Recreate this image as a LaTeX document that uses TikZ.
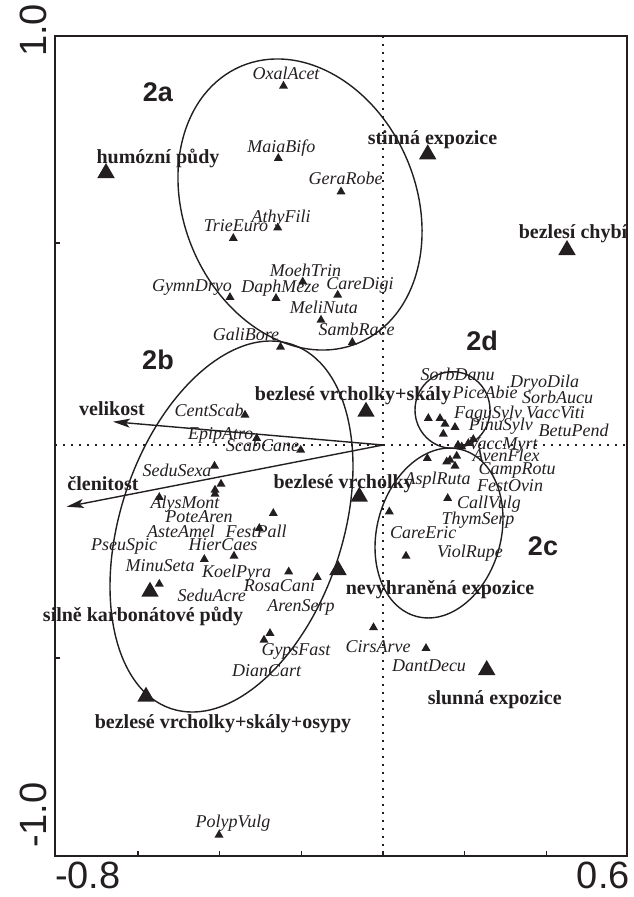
\documentclass[tikz,border=0pt]{standalone}
\usepackage{fontspec}
\setmainfont{Liberation Serif}
\newfontfamily\arialf{Liberation Sans}
\usetikzlibrary{arrows.meta}
\definecolor{ink}{HTML}{231F20}
\begin{document}
\begin{tikzpicture}[x=1pt,y=-1pt,
  sp/.style={font=\fontsize{18}{20}\selectfont\itshape, anchor=base, inner sep=0pt, text=ink},
  env/.style={font=\fontsize{20}{22}\selectfont\bfseries, anchor=base, inner sep=0pt, text=ink},
  grp/.style={font=\arialf\bfseries\fontsize{27}{30}\selectfont, anchor=base, inner sep=0pt, text=ink},
  axl/.style={font=\arialf\fontsize{38}{40}\selectfont, inner sep=0pt, text=ink},
  frame/.style={draw=ink, line width=1.5pt},
  grpline/.style={draw=ink, line width=1.4pt},
  dotline/.style={draw=ink, line width=1.3pt, dash pattern=on 2pt off 6pt},
  arr/.style={draw=ink, line width=1.4pt, -{Stealth[length=17pt,width=9pt,inset=4pt]}},
  smt/.pic={\fill[ink] (0,-5.2) -- (4.5,2.6) -- (-4.5,2.6) -- cycle;},
  bgt/.pic={\fill[ink] (0,-10) -- (8.7,5) -- (-8.7,5) -- cycle;}
]
\useasboundingbox (0,0) rectangle (633,897);

% dotted axes through origin
\draw[dotline] (383,36) -- (383,856);
\draw[dotline] (55,445) -- (627,445);

% frame and ticks
\draw[frame] (55,36) rectangle (627,856);
\foreach \tx in {137.9,219.6,301.3,383,464.7,546.4} \draw[frame] (\tx,856) -- (\tx,851);
\foreach \ty in {243,658} \draw[frame] (55,\ty) -- (60,\ty);

% axis labels
\node[axl, anchor=base west] (xmin) at (55,888) {-0.8};
\node[axl, anchor=base east] (xmax) at (630,888) {0.6};
\node[axl, rotate=90, anchor=base west] (ymin) at (46,848) {-1.0};
\node[axl, rotate=90, anchor=base west] (ymax) at (46,57) {1.0};

% group ellipses
\draw[grpline, rotate around={23.2:(300,204.5)}] (300,204.5) ellipse [x radius=116.1pt, y radius=150.3pt];
\draw[grpline, rotate around={-18.3:(231.5,526.5)}] (231.5,526.5) ellipse [x radius=111.1pt, y radius=191.9pt];
\draw[grpline, rotate around={-15.2:(439,533)}] (439,533) ellipse [x radius=62pt, y radius=86.4pt];
\draw[grpline] (452.5,410) ellipse [x radius=37.5pt, y radius=38.3pt];

% group labels
\node[grp] (g2a) at (158,101) {2a};
\node[grp] (g2b) at (158,369) {2b};
\node[grp] (g2c) at (543,555) {2c};
\node[grp] (g2d) at (482,350) {2d};

% arrows
\coordinate (o) at (383,445);
\coordinate (tv) at (113,421.7);
\coordinate (tc) at (66.7,506.7);
\draw[arr] (o) -- (tv);
\draw[arr] (o) -- (tc);

% small triangles (species)
\foreach \x/\y in {283.5/86, 278.3/158.3, 341/191.7, 277.7/227.7, 233.3/238.3, 302.7/281.7,
  276/298.3, 337.7/295, 230/297.3, 321/320, 352.3/342.3, 280.5/347,
  245/415, 256.7/438.3, 300.7/450, 214.5/466, 221/484, 215/490, 215/494,
  159.3/497.3, 273.3/513.3, 259.3/528.3, 234/556, 204.3/559.3, 288.7/571.7,
  317.3/577.3, 159.3/584, 270/633.3, 264/640, 373.5/627.5, 426/648.3, 219/835,
  428.3/418.3, 440/418.3, 445/424, 455/427.3, 443.3/434,
  473.3/439.3, 468.3/443.3, 461.7/446.7, 458/445, 456.7/456, 450/460, 446.7/461.7,
  455/466, 427.3/458.3, 447.7/498.3, 389.3/511.7, 406/556}
  \pic at (\x,\y) {smt};

% big triangles (environment)
\foreach \x/\y in {106/173, 427.7/154.3, 567/250, 366/411.7, 359.3/496.7, 338/570,
  150/591.7, 146/696.7, 486.7/670}
  \pic at (\x,\y) {bgt};

% species labels
\node[sp] (oxal) at (286,79) {OxalAcet};
\node[sp] (maia) at (281.3,152) {MaiaBifo};
\node[sp] (gera) at (345.5,184) {GeraRobe};
\node[sp] (athy) at (281,222) {AthyFili};
\node[sp] (trie) at (236,231) {TrieEuro};
\node[sp] (moeh) at (305.5,276) {MoehTrin};
\node[sp] (daph) at (280.3,292) {DaphMeze};
\node[sp] (cdig) at (360,289) {CareDigi};
\node[sp] (gymn) at (192,291) {GymnDryo};
\node[sp] (meli) at (323.8,313) {MeliNuta};
\node[sp] (samb) at (356.7,335) {SambRace};
\node[sp] (gali) at (246,340) {GaliBore};
\node[sp] (cent) at (209,416) {CentScab};
\node[sp] (epip) at (220.7,439) {EpipAtro};
\node[sp] (scab) at (262.5,451) {ScabCane};
\node[sp] (sexa) at (177,476) {SeduSexa};
\node[sp] (alys) at (185,508) {AlysMont};
\node[sp] (pote) at (199,522) {PoteAren};
\node[sp] (aste) at (181,537) {AsteAmel};
\node[sp] (fpal) at (256,537) {FestPall};
\node[sp] (pseu) at (124,550) {PseuSpic};
\node[sp] (hier) at (223,550) {HierCaes};
\node[sp] (minu) at (160,571) {MinuSeta};
\node[sp] (koel) at (236.7,577) {KoelPyra};
\node[sp] (rosa) at (279.5,591) {RosaCani};
\node[sp] (acre) at (211.7,601) {SeduAcre};
\node[sp] (aren) at (301,611) {ArenSerp};
\node[sp] (gyps) at (296,655) {GypsFast};
\node[sp] (dian) at (266.7,676) {DianCart};
\node[sp] (cirs) at (378,652) {CirsArve};
\node[sp] (dant) at (429,671) {DantDecu};
\node[sp] (poly) at (233,827) {PolypVulg};
\node[sp] (ceri) at (423.3,538) {CareEric};
\node[sp] (viol) at (470,557) {ViolRupe};
\node[sp] (thym) at (478,524) {ThymSerp};
\node[sp] (call) at (489,508) {CallVulg};
\node[sp] (aspl) at (437.7,484) {AsplRuta};
\node[sp] (fovi) at (510,491) {FestOvin};
\node[sp] (camp) at (517,474) {CampRotu};
\node[sp] (aven) at (506,461) {AvenFlex};
\node[sp] (vmyr) at (503,449) {VaccMyrt};
\node[sp] (betu) at (573.5,436) {BetuPend};
\node[sp] (pinu) at (500.8,430) {PinuSylv};
\node[sp] (fagu) at (488,418) {FaguSylv};
\node[sp] (vvit) at (555.5,418) {VaccViti};
\node[sp] (sauc) at (557.5,403) {SorbAucu};
\node[sp] (pice) at (485,398) {PiceAbie};
\node[sp] (dryo) at (544.7,387) {DryoDila};
\node[sp] (sdan) at (457.5,380) {SorbDanu};

% environmental labels
\node[env] (humo) at (158,163) {humózní půdy};
\node[env] (stin) at (432.5,144) {stinná expozice};
\node[env] (bchy) at (573,238) {bezlesí chybí};
\node[env] (bvs) at (353,400) {bezlesé vrcholky+skály};
\node[env] (bv) at (343.6,488) {bezlesé vrcholky};
\node[env] (nevy) at (440,594) {nevyhraněná expozice};
\node[env] (silne) at (143,621) {silně karbonátové půdy};
\node[env] (bvso) at (223,728) {bezlesé vrcholky+skály+osypy};
\node[env] (slun) at (494.7,704) {slunná expozice};
\node[env] (veli) at (112,415) {velikost};
\node[env] (clen) at (103,490) {členitost};
\end{tikzpicture}
\end{document}
